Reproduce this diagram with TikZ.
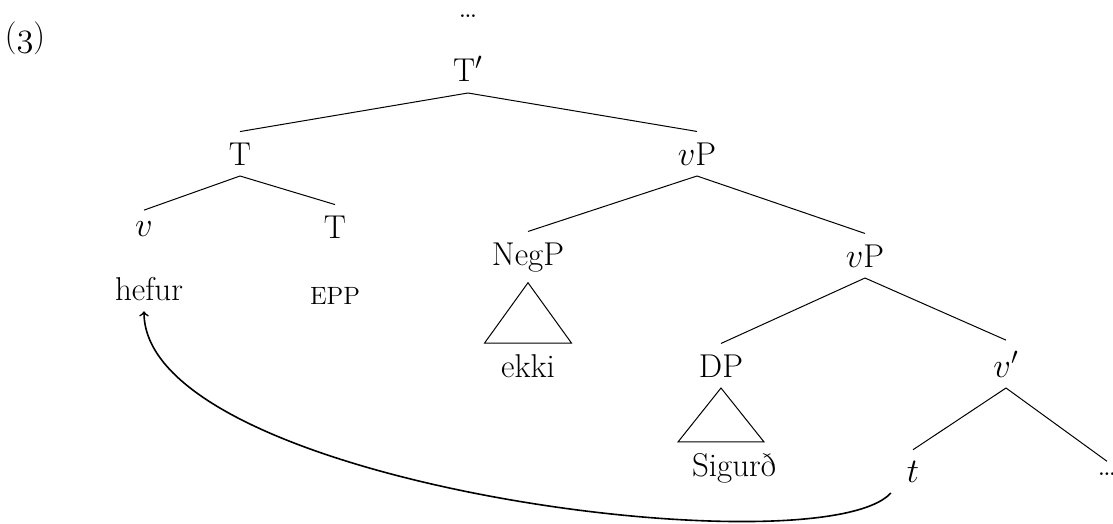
\documentclass[tikz,border=0pt]{standalone}
\usepackage{fontspec}
\usetikzlibrary{calc}
\begin{document}
\begin{tikzpicture}[x=0.5pt,y=-0.5pt,
  lab/.style={inner sep=0pt, outer xsep=0pt, outer ysep=5.5pt, anchor=base, font=\fontsize{16.5}{19}\selectfont},
  edge/.style={line width=0.5pt},
  mvt/.style={line width=0.8pt, ->}]
\useasboundingbox (0,0) rectangle (1113,524);
% labels
\node[lab] (ex) at (25,47) {({\usefont{OML}{cmm}{m}{it}3})};
\node[lab] (top) at (468,18) {\ldots};
\node[lab] (Tp) at (468,82) {T$'$};
\node[lab] (T) at (240,165) {T};
\node[lab] (vP) at (697,165) {$v$P};
\node[lab] (v) at (144,236) {$v$};
\node[lab] (T2) at (335,238) {T};
\node[lab] (hefur) at (149,300) {hefur};
\node[lab, font=\fontsize{12.5}{14}\selectfont] (epp) at (335,304) {EPP};
\node[lab] (NegP) at (528,265) {NegP};
\node[lab] (vP2) at (865,267) {$v$P};
\node[lab] (ekki) at (528,377) {ekki};
\node[lab] (DP) at (721,377) {DP};
\node[lab] (vbar) at (1006,377) {$v'$};
\node[lab] (Sig) at (734,476) {Sigurð};
\node[lab] (t) at (913,482) {$t$};
\node[lab] (dots) at (1107,475) {\ldots};
% edges
\draw[edge] (Tp.south) -- (T.north);
\draw[edge] (Tp.south) -- (vP.north);
\draw[edge] (T.south) -- (v.north);
\draw[edge] (T.south) -- (T2.north);
\draw[edge] (vP.south) -- (NegP.north);
\draw[edge] (vP.south) -- (vP2.north);
\draw[edge] (vP2.south) -- (DP.north);
\draw[edge] (vP2.south) -- (vbar.north);
\draw[edge] (vbar.south) -- (t.north);
\draw[edge] (vbar.south) -- (dots.north);
% roofs
\draw[edge] (NegP.south) -- ($(NegP.south |- ekki.north)+(-43.5,0)$) -- ($(NegP.south |- ekki.north)+(43.5,0)$) -- cycle;
\draw[edge] (DP.south) -- ($(DP.south |- Sig.north)+(-43,0)$) -- ($(DP.south |- Sig.north)+(43,0)$) -- cycle;
% movement
\draw[mvt] ([xshift=-8pt]t.south west) .. controls (820,570) and (144,485) .. ([xshift=-2.5pt]hefur.south);
\end{tikzpicture}
\end{document}
